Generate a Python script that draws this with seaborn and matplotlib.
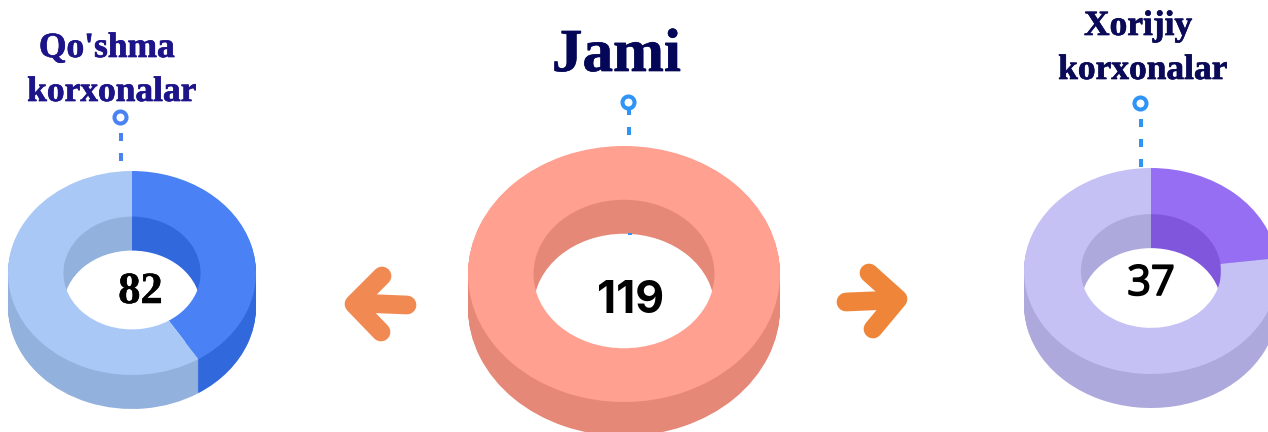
import matplotlib
matplotlib.use("Agg")
import matplotlib.pyplot as plt
import matplotlib.patheffects as pe
import seaborn as sns
import pandas as pd

# data
labels = ["Qo'shma\nkorxonalar", "Jami", "Xorijiy\nkorxonalar"]
totals = [82, 119, 37]
joint_shares = [41, 59]
all_shares = [100]
foreign_shares = [23, 77]

# colours
joint_top = ["#4A82F5", "#A9C8F5"]
joint_side = ["#3169DD", "#92B1DC"]
all_top = ["#FFA091"]
all_side = ["#E58878"]
foreign_top = ["#966EF4", "#C5C1F5"]
foreign_side = ["#7F56DC", "#ADA9DC"]

W, H = 1268, 432

sns.set_theme(style="white", rc={"figure.facecolor": "white"})
plt.rcParams["font.family"] = ["Liberation Serif", "DejaVu Sans"]

fig = plt.figure(figsize=(W / 100, H / 100), dpi=100)


def plot_donut(shares, top, side, cx, cy, rx, ry, hole, depth):
    # one axes per donut, unequal aspect squashes the pies into ellipses
    d = depth / ry
    ax = fig.add_axes([(cx - rx) / W, 1 - (cy + ry + depth) / H, 2 * rx / W, (2 * ry + depth) / H])
    pie = dict(startangle=90, counterclock=False, wedgeprops=dict(linewidth=0))
    # outer wall, deepest first
    for step in range(depth, 0, -1):
        ax.pie(shares, colors=side, center=(0, -step / ry), radius=1, **pie)
    # inner wall, deepest last
    for step in range(0, depth):
        ax.pie(shares, colors=side, center=(0, -step / ry), radius=hole, **pie)
    ax.pie([1], colors=["white"], center=(0, -d), radius=hole, wedgeprops=dict(linewidth=0))
    ax.pie(shares, colors=top, radius=1, startangle=90, counterclock=False,
           wedgeprops=dict(width=1 - hole, linewidth=0))
    ax.set_aspect("auto")
    ax.set_xlim(-1, 1)
    ax.set_ylim(-1 - d, 1)
    ax.axis("off")


plot_donut(joint_shares, joint_top, joint_side, 132, 273, 124, 102, 0.553, 34)
plot_donut(all_shares, all_top, all_side, 624, 274, 156, 128, 0.58, 34)
plot_donut(foreign_shares, foreign_top, foreign_side, 1151, 271, 127, 103, 0.552, 34)

# overlay in pixel coordinates for text, pins and arrows
ov = fig.add_axes([0, 0, 1, 1])
ov.patch.set_alpha(0)

pins = pd.DataFrame({"x": [120, 628, 1140], "y": [117, 102, 103], "c": ["#4A82F5", "#2E94F5", "#2E94F5"]})
for _, p in pins.iterrows():
    sns.scatterplot(x=[p["x"]], y=[p["y"]], ax=ov, s=75, facecolor="white",
                    edgecolor=p["c"], linewidth=2.9, legend=False, zorder=5)

stems = [
    (121, 133, 141, "#4A82F5"), (121, 153, 161, "#4A82F5"),
    (628.5, 108, 115, "#2E94F5"), (628.5, 127, 135, "#2E94F5"), (630, 233, 235, "#2E94F5"),
    (1141, 119, 127, "#2E94F5"), (1141, 139, 147, "#2E94F5"), (1141, 159, 167, "#2E94F5"),
]
for x, y0, y1, c in stems:
    ov.plot([x, x], [y0, y1], color=c, lw=2.9, solid_capstyle="butt", zorder=4)


def plot_arrow(shaft, head, color):
    ov.plot(*zip(*shaft), color=color, lw=13.5, solid_capstyle="round", zorder=3)
    ov.plot(*zip(*head), color=color, lw=13.5, solid_capstyle="round",
            solid_joinstyle="round", zorder=3)


plot_arrow([(407, 305), (358, 303)], [(382, 276), (354, 304), (381, 332)], "#F08A52")
plot_arrow([(846, 302), (894, 300)], [(869, 273), (898, 299), (873, 329)], "#EE8538")

serif = ["Liberation Serif", "DejaVu Serif"]
heavy = [pe.withStroke(linewidth=0.5, foreground="#1C1488")]
heavy_dark = [pe.withStroke(linewidth=0.5, foreground="#0A0A58")]
title_style = dict(family=serif, weight="bold", ha="center", va="baseline", zorder=6)
left_lines = labels[0].split("\n")
right_lines = labels[2].split("\n")
ov.text(107, 57, left_lines[0], color="#1C1488", fontsize=25.5, path_effects=heavy, **title_style)
ov.text(112, 101, left_lines[1], color="#1C1488", fontsize=25.5, path_effects=heavy, **title_style)
ov.text(616.5, 71, labels[1], color="#040658", fontsize=44, path_effects=heavy_dark, **title_style)
ov.text(1138, 35, right_lines[0], color="#0A0A58", fontsize=25.5, path_effects=heavy_dark, **title_style)
ov.text(1143, 79, right_lines[1], color="#0A0A58", fontsize=25.5, path_effects=heavy_dark, **title_style)

ov.text(140.5, 303, str(totals[0]), color="black", fontsize=32, family=serif, weight="bold",
        ha="center", va="baseline", zorder=6,
        path_effects=[pe.withStroke(linewidth=0.4, foreground="black")])
ov.text(631, 313, str(totals[1]), color="black", fontsize=32, family=["Inter", "DejaVu Sans"],
        weight="bold", ha="center", va="baseline", zorder=6)
ov.text(1151, 295, str(totals[2]), color="black", fontsize=30, family=["Open Sans", "DejaVu Sans"],
        ha="center", va="baseline", zorder=6,
        path_effects=[pe.withStroke(linewidth=1.2, foreground="black")])

ov.set_xlim(0, W)
ov.set_ylim(H, 0)
ov.axis("off")

fig.savefig("out.png", dpi=100)
